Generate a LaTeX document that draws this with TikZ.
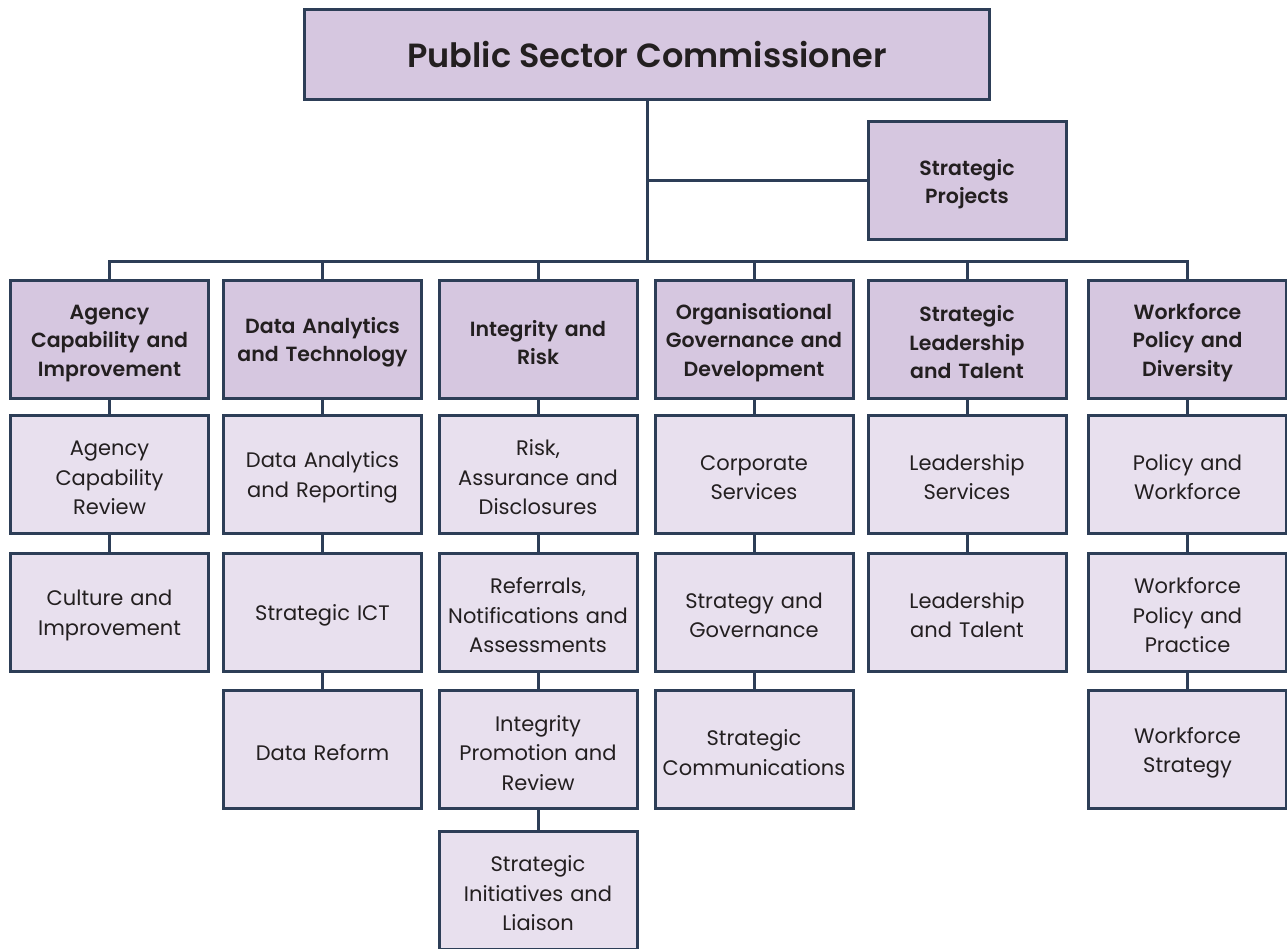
\documentclass[tikz,border=0pt]{standalone}
\usepackage{fontspec}
\setmainfont{Poppins}[BoldFont={Poppins SemiBold}]
\definecolor{edge}{HTML}{2D3E57}
\definecolor{headfill}{HTML}{D6C7E0}
\definecolor{unitfill}{HTML}{E8E0EE}
\definecolor{ink}{HTML}{231F20}
\begin{document}
\begin{tikzpicture}[x=1pt,y=-1pt,
  box/.style={draw=edge, line width=3pt, minimum width=198pt, align=center, text=ink, inner sep=0pt},
  % a tall zero-width strut on the first line sets the text a little lower in its box
  lowered/.style={execute at begin node={\rule{0pt}{1.07em}}},
  head/.style={box, lowered, fill=headfill, minimum height=118pt, font=\fontsize{20.5}{28.5}\selectfont\bfseries, text width=192pt},
  unit/.style={box, lowered, fill=unitfill, minimum height=118pt, font=\fontsize{21}{29.5}\selectfont, text width=192pt},
  link/.style={draw=edge, line width=3pt}]
\useasboundingbox (0,0) rectangle (1287,949);

% top level
\node[box, fill=headfill, minimum width=685pt, minimum height=90pt,
      font=\fontsize{33.5}{38}\selectfont\bfseries] (psc) at (647,55) {Public Sector Commissioner};
\node[head] (sp) at (967,181) {Strategic\\Projects};

% divisions
\node[head] (h1) at (109.5,339.5) {Agency\\Capability and\\Improvement};
\node[head] (h2) at (322.5,339.5) {Data Analytics\\and Technology};
\node[head] (h3) at (538,339.5) {Integrity and\\Risk};
\node[head] (h4) at (754,339.5) {Organisational\\Governance and\\Development};
\node[head] (h5) at (967,339.5) {Strategic\\Leadership\\and Talent};
\node[head] (h6) at (1187.5,339.5) {Workforce\\Policy and\\Diversity};

% branches
\node[unit] (a1) at (109.5,474) {Agency\\Capability\\Review};
\node[unit] (a2) at (109.5,612) {Culture and\\Improvement};

\node[unit] (b1) at (322.5,474) {Data Analytics\\and Reporting};
\node[unit] (b2) at (322.5,612) {Strategic ICT};
\node[unit] (b3) at (322.5,749.5) {Data Reform};

\node[unit] (c1) at (538,474) {Risk,\\Assurance and\\Disclosures};
\node[unit] (c2) at (538,612) {Referrals,\\Notifications and\\Assessments};
\node[unit] (c3) at (538,749.5) {Integrity\\Promotion and\\Review};
\node[unit] (c4) at (538,890) {Strategic\\Initiatives and\\Liaison};

\node[unit] (d1) at (754,474) {Corporate\\Services};
\node[unit] (d2) at (754,612) {Strategy and\\Governance};
\node[unit] (d3) at (754,749.5) {Strategic\\Communications};

\node[unit] (e1) at (967,474) {Leadership\\Services};
\node[unit] (e2) at (967,612) {Leadership\\and Talent};

\node[unit] (f1) at (1187.5,474) {Policy and\\Workforce};
\node[unit] (f2) at (1187.5,612) {Workforce\\Policy and\\Practice};
\node[unit] (f3) at (1187.5,749.5) {Workforce\\Strategy};

% connectors
\coordinate (bus) at (0,262);
\path[link] (psc.south) -- (psc.south |- bus);
\path[link] (sp.west) -- (sp.west -| psc.south);
\path[link] (h1.north) -- (h1.north |- bus) -- (h6.north |- bus) -- (h6.north);
\foreach \h in {h2,h3,h4,h5} \path[link] (\h.north) -- (\h.north |- bus);
\foreach \u/\l in {h1/a1,a1/a2, h2/b1,b1/b2,b2/b3, h3/c1,c1/c2,c2/c3,c3/c4,
                   h4/d1,d1/d2,d2/d3, h5/e1,e1/e2, h6/f1,f1/f2,f2/f3}
  \path[link] (\u.south) -- (\l.north);
\end{tikzpicture}
\end{document}
